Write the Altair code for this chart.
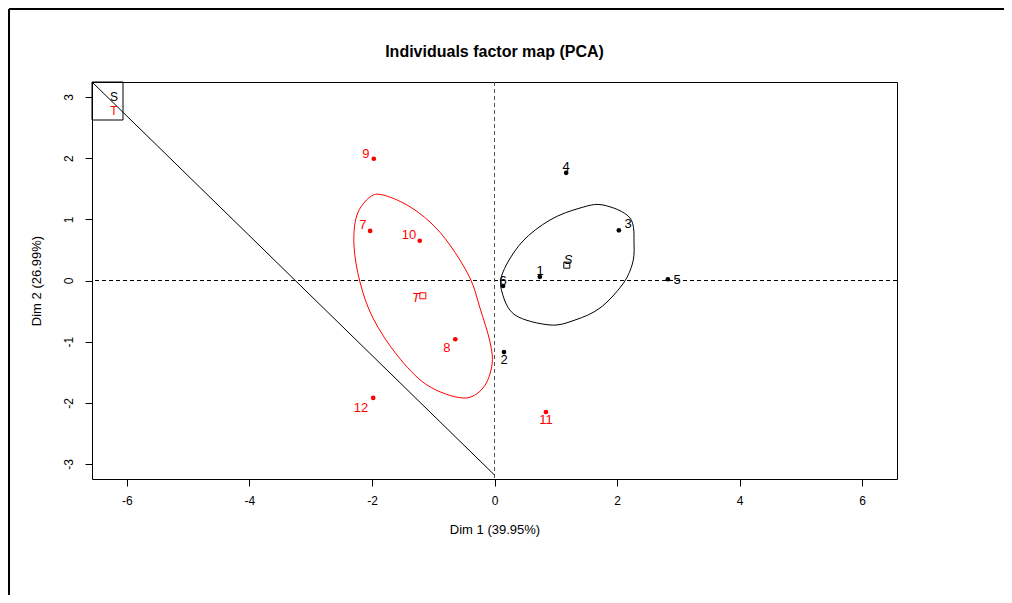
import altair as alt
import pandas as pd

# individuals (coordinates on Dim 1 / Dim 2)
ind_names = ["1", "2", "3", "4", "5", "6", "7", "8", "9", "10", "11", "12"]
ind_x = [0.74, 0.155, 2.03, 1.17, 2.83, 0.14, -2.03, -0.64, -1.97, -1.22, 0.84, -1.98]
ind_y = [0.06, -1.17, 0.82, 1.76, 0.02, -0.09, 0.81, -0.96, 1.99, 0.65, -2.15, -1.92]
ind_group = ["S"] * 6 + ["T"] * 6
# label positions (as placed by the plotting routine)
lab_x = [0.743, 0.155, 2.18, 1.167, 2.98, 0.139, -2.147, -0.776, -2.098, -1.396, 0.841, -2.18]
lab_y = [0.155, -1.30, 0.92, 1.856, 0.008, -0.008, 0.907, -1.10, 2.068, 0.744, -2.28, -2.084]

# group centroids
cent_names = ["S", "T"]
cent_x = [1.18, -1.17]
cent_y = [0.25, -0.25]
cent_lab_x = [1.20, -1.28]
cent_lab_y = [0.335, -0.286]

# confidence ellipses (outline)
ellS_x = [1.771, 2.212, 2.278, 2.245, 2.082, 1.722, 1.314, 0.906, 0.335, 0.122, 0.139, 0.449, 0.906, 1.396]
ellS_y = [1.234, 1.022, 0.580, 0.253, -0.074, -0.450, -0.646, -0.727, -0.564, -0.188, 0.139, 0.629, 0.989, 1.185]
ellT_x = [-1.820, -1.429, -1.053, -0.727, -0.400, -0.237, -0.073, -0.041, -0.188, -0.514, -1.102, -1.592, -1.984, -2.196, -2.294, -2.245, -2.033]
ellT_y = [1.398, 1.234, 0.956, 0.580, 0.041, -0.450, -1.005, -1.381, -1.757, -1.921, -1.708, -1.218, -0.613, -0.025, 0.580, 1.071, 1.365]

# stray diagonal segment
diag_x = [-6.57, 0.0]
diag_y = [3.245, -3.18]

x_ticks = [-6, -4, -2, 0, 2, 4, 6]
y_ticks = [-3, -2, -1, 0, 1, 2, 3]
x_dom = [-6.57, 6.57]
y_dom = [-3.245, 3.245]

TITLE = "Individuals factor map (PCA)"
FONT = "Liberation Sans"
W, H = 805, 397

xs = alt.Scale(domain=x_dom, nice=False, zero=False)
ys = alt.Scale(domain=y_dom, nice=False, zero=False)
col = alt.Scale(domain=["S", "T"], range=["#000000", "#FF0000"])

pts = pd.DataFrame({"x": ind_x, "y": ind_y, "g": ind_group, "name": ind_names,
                    "lx": lab_x, "ly": lab_y})
cents = pd.DataFrame({"x": cent_x, "y": cent_y, "g": cent_names,
                      "lx": cent_lab_x, "ly": cent_lab_y})
ell = pd.DataFrame({
    "x": ellS_x + ellT_x,
    "y": ellS_y + ellT_y,
    "g": ["S"] * len(ellS_x) + ["T"] * len(ellT_x),
    "o": list(range(len(ellS_x))) + list(range(len(ellT_x))),
})
diag = pd.DataFrame({"x": diag_x, "y": diag_y})
zero = pd.DataFrame({"v": [0]})
dummy = pd.DataFrame({"a": [0]})

x_axis = alt.Axis(title="Dim 1 (39.95%)", values=x_ticks, labelExpr="'' + datum.value",
                  titlePadding=17, labelPadding=9, grid=False)
y_axis = alt.Axis(title="Dim 2 (26.99%)", values=y_ticks, labelExpr="'' + datum.value",
                  labelAngle=270, labelAlign="center", labelBaseline="bottom",
                  labelPadding=10, titlePadding=19, grid=False)

base_x = alt.X("x:Q", scale=xs, axis=x_axis)
base_y = alt.Y("y:Q", scale=ys, axis=y_axis)

hline = alt.Chart(zero).mark_rule(strokeDash=[4, 3], color="black", strokeWidth=1).encode(
    y=alt.Y("v:Q", scale=ys, axis=y_axis))
vline = alt.Chart(zero).mark_rule(strokeDash=[4, 3], color="#555555", strokeWidth=1).encode(
    x=alt.X("v:Q", scale=xs, axis=x_axis))

diag_line = alt.Chart(diag).mark_line(color="black", strokeWidth=1, clip=True).encode(
    x=base_x, y=base_y)

ellipses = alt.Chart(ell).mark_line(interpolate="cardinal-closed", strokeWidth=1).encode(
    x=base_x, y=base_y, order="o:Q",
    color=alt.Color("g:N", scale=col, legend=None))

points = alt.Chart(pts).mark_point(filled=True, shape="circle", size=22, opacity=1).encode(
    x=base_x, y=base_y, color=alt.Color("g:N", scale=col, legend=None))

labels = alt.Chart(pts).mark_text(font=FONT, fontSize=13).encode(
    x=alt.X("lx:Q", scale=xs, axis=x_axis), y=alt.Y("ly:Q", scale=ys, axis=y_axis),
    text="name:N", color=alt.Color("g:N", scale=col, legend=None))

cent_pts = alt.Chart(cents).mark_point(shape="square", size=36, filled=False, strokeWidth=1, opacity=1).encode(
    x=base_x, y=base_y, color=alt.Color("g:N", scale=col, legend=None))

cent_labels = alt.Chart(cents).mark_text(font=FONT, fontSize=13, fontStyle="italic").encode(
    x=alt.X("lx:Q", scale=xs, axis=x_axis), y=alt.Y("ly:Q", scale=ys, axis=y_axis),
    text="g:N", color=alt.Color("g:N", scale=col, legend=None))

# legend box in the top-left corner
leg_box = alt.Chart(dummy).mark_rect(fill=None, stroke="black", strokeWidth=1).encode(
    x=alt.value(0), x2=alt.value(31), y=alt.value(0), y2=alt.value(38))
leg_s = alt.Chart(dummy).mark_text(font=FONT, fontSize=12, color="black").encode(
    x=alt.value(22), y=alt.value(15), text=alt.value("S"))
leg_t = alt.Chart(dummy).mark_text(font=FONT, fontSize=12, color="#FF0000").encode(
    x=alt.value(22), y=alt.value(29), text=alt.value("T"))

# chart title
title_txt = alt.Chart(dummy).mark_text(font=FONT, fontSize=16, fontWeight="bold",
                                       color="black", baseline="middle", align="center").encode(
    x=alt.value(W / 2), y=alt.value(-30), text=alt.value(TITLE))

# outer frame lines (top and left)
frame_top = alt.Chart(dummy).mark_rule(color="black", strokeWidth=2).encode(
    x=alt.value(-83), x2=alt.value(915), y=alt.value(-73))
frame_left = alt.Chart(dummy).mark_rule(color="black", strokeWidth=2).encode(
    x=alt.value(-83), y=alt.value(-73), y2=alt.value(515))

chart = alt.layer(
    hline, vline, diag_line, ellipses, points, labels, cent_pts, cent_labels,
    leg_box, leg_s, leg_t, title_txt, frame_top, frame_left
).properties(
    width=W, height=H,
    autosize=alt.AutoSizeParams(type="none"),
    padding={"left": 84, "top": 74, "right": 107, "bottom": 116},
).configure(
    background="white"
).configure_view(
    stroke="black", strokeWidth=1
).configure_axis(
    grid=False, domain=False, tickColor="black", tickSize=7, tickWidth=1,
    labelFont=FONT, labelFontSize=12, labelColor="black",
    titleFont=FONT, titleFontSize=13, titleFontWeight="normal", titleColor="black",
)

chart.save("out.html", embed_options={"renderer": "svg", "actions": False})
